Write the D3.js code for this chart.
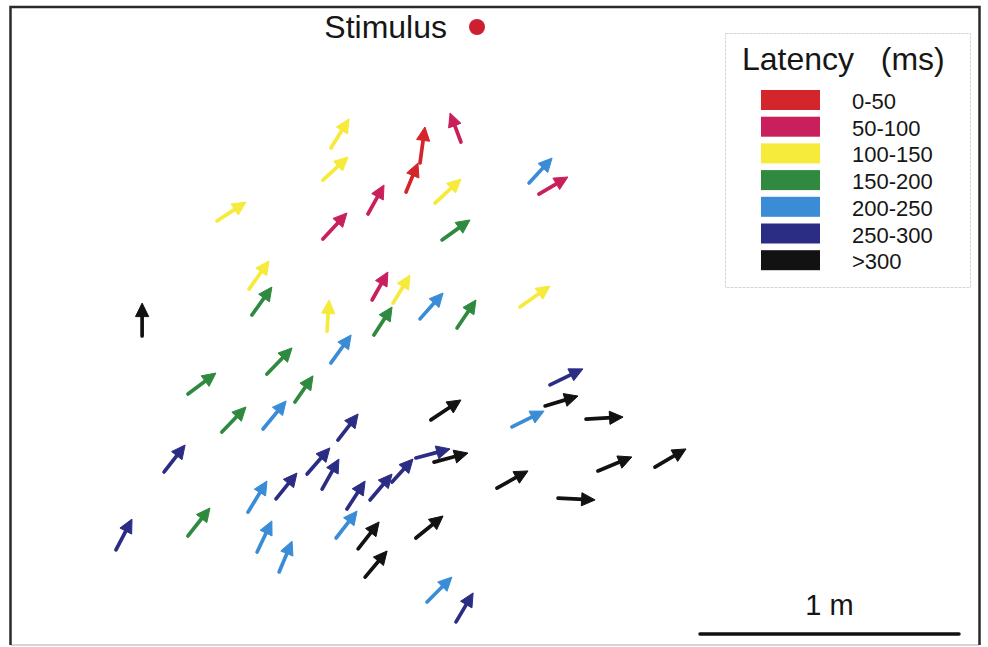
<!DOCTYPE html>
<html>
<head>
<meta charset="utf-8">
<script src="https://cdn.jsdelivr.net/npm/d3@7"></script>
<style>
  body { margin: 0; background: #fff; }
  text { font-family: "Liberation Sans", Arial, sans-serif; fill: #161616; }
</style>
</head>
<body>
<script>
// positions in cm, measured from the stimulus (y grows away from it)
// each arrow is [tailX, tailY, headX, headY]
let latencyBins = ["0-50", "50-100", "100-150", "150-200", "200-250", "250-300", ">300"];

let arrows0to50 = [
  [-27.4, 63.7, -22.8, 52.5],
  [-22.0, 52.5, -20.1, 38.6]
];
let arrows50to100 = [
  [-6.2, 44.4, -10.4, 33.2],
  [-42.1, 72.2, -35.9, 61.0],
  [-59.5, 81.9, -50.2, 71.8],
  [23.9, 64.5, 35.1, 57.9],
  [-40.5, 105.4, -34.4, 94.6]
];
let arrows100to150 = [
  [-56.4, 46.7, -49.4, 35.5],
  [-59.5, 59.1, -49.8, 50.2],
  [-100.4, 74.9, -89.2, 67.6],
  [-16.2, 68.0, -6.2, 58.7],
  [-88.0, 101.2, -80.3, 90.3],
  [-57.9, 117.4, -57.1, 105.4],
  [-32.4, 106.6, -25.9, 95.8],
  [16.6, 108.1, 28.2, 100.0]
];
let arrows150to200 = [
  [-13.5, 82.2, -2.7, 74.5],
  [-86.9, 111.2, -79.2, 100.4],
  [-39.8, 118.9, -32.8, 108.1],
  [-7.7, 116.2, -0.4, 105.4],
  [-81.1, 134.0, -71.4, 123.9],
  [-111.6, 141.7, -100.8, 133.6],
  [-70.3, 144.8, -63.3, 134.7],
  [-98.5, 156.4, -89.2, 146.7],
  [-111.6, 196.5, -103.1, 185.7]
];
let arrows200to250 = [
  [20.1, 60.2, 29.0, 50.6],
  [-22.0, 112.7, -13.1, 102.7],
  [-56.4, 129.7, -48.6, 118.9],
  [-82.6, 155.2, -73.7, 144.4],
  [13.5, 154.4, 25.9, 148.3],
  [-88.4, 187.3, -81.1, 175.3],
  [-84.9, 202.7, -79.2, 190.7],
  [-76.4, 210.4, -71.4, 198.5],
  [-54.4, 197.3, -46.3, 186.9],
  [-19.3, 222.0, -9.7, 212.4]
];
let arrows250to300 = [
  [28.2, 138.2, 40.9, 132.0],
  [-53.7, 159.5, -45.9, 149.4],
  [-120.8, 171.8, -112.7, 161.4],
  [-65.6, 172.6, -56.8, 162.5],
  [-59.8, 178.4, -53.3, 166.8],
  [-50.2, 186.1, -43.2, 175.3],
  [-41.3, 182.6, -32.8, 172.6],
  [-32.8, 175.7, -24.7, 166.8],
  [-23.6, 166.4, -10.4, 162.9],
  [-77.6, 182.2, -69.5, 172.2],
  [-139.4, 201.9, -133.2, 190.0],
  [-8.1, 229.7, -1.5, 218.5]
];
let arrowsOver300 = [
  [-129.3, 119.3, -129.3, 106.6],
  [-17.8, 151.7, -6.2, 144.0],
  [26.3, 146.3, 39.0, 142.5],
  [42.1, 151.4, 56.4, 150.6],
  [-16.6, 168.0, -3.5, 164.5],
  [7.7, 178.0, 19.7, 171.4],
  [31.3, 181.9, 45.6, 182.6],
  [46.7, 171.4, 59.8, 166.0],
  [68.7, 169.9, 80.7, 162.9],
  [-45.9, 201.5, -37.8, 191.1],
  [-23.6, 197.3, -13.1, 188.8],
  [-43.2, 212.4, -34.7, 202.3]
];
let arrowsByBin = [arrows0to50, arrows50to100, arrows100to150, arrows150to200,
                   arrows200to250, arrows250to300, arrowsOver300];

let stimulus = [0, 0];
let scaleBarCm = 100;

let width = 988, height = 647;
let pxPerCm = 2.59;
let origin = [477, 27];

let xScale = d3.scaleLinear().domain([0, 100]).range([origin[0], origin[0] + 100 * pxPerCm]);
let yScale = d3.scaleLinear().domain([0, 100]).range([origin[1], origin[1] + 100 * pxPerCm]);
let color = d3.scaleOrdinal()
    .domain(latencyBins)
    .range(["#d4242c", "#c91f5c", "#f6ea3a", "#2f8a3f", "#3a8cd6", "#2b2d84", "#121212"]);

let svg = d3.select("body").append("svg")
    .attr("width", width)
    .attr("height", height);

// frame
svg.append("line").attr("x1", 10.5).attr("y1", 645).attr("x2", 979).attr("y2", 645)
    .attr("stroke", "#c8c8c8").attr("stroke-width", 1.5);
svg.append("path")
    .attr("d", "M10.5,645 V7 H979.5 V645")
    .attr("fill", "none")
    .attr("stroke", "#2a2a2a")
    .attr("stroke-width", 2.5);

// stimulus
svg.append("circle")
    .attr("cx", xScale(stimulus[0]))
    .attr("cy", yScale(stimulus[1]))
    .attr("r", 8)
    .attr("fill", "#cc2030");
svg.append("text")
    .attr("x", xScale(stimulus[0]) - 30)
    .attr("y", yScale(stimulus[1]) + 11)
    .attr("text-anchor", "end")
    .attr("font-size", 32)
    .text("Stimulus");

// arrows
let headLen = 13.5, headHalf = 6.6;
let flat = [];
arrowsByBin.forEach((list, i) => list.forEach(a => flat.push({bin: latencyBins[i], a: a})));

svg.append("g").selectAll("g")
    .data(flat)
    .enter()
    .append("g")
    .each(function(d) {
        let x0 = xScale(d.a[0]), y0 = yScale(d.a[1]);
        let x1 = xScale(d.a[2]), y1 = yScale(d.a[3]);
        let len = Math.hypot(x1 - x0, y1 - y0);
        let ux = (x1 - x0) / len, uy = (y1 - y0) / len;
        let bx = x1 - ux * headLen, by = y1 - uy * headLen;
        let g = d3.select(this);
        g.append("line")
            .attr("x1", x0).attr("y1", y0)
            .attr("x2", bx + ux * 2).attr("y2", by + uy * 2)
            .attr("stroke", color(d.bin))
            .attr("stroke-width", 3.7)
            .attr("stroke-linecap", "round");
        g.append("path")
            .attr("d", "M" + x1 + "," + y1 +
                       "L" + (bx - uy * headHalf) + "," + (by + ux * headHalf) +
                       "L" + (bx + uy * headHalf) + "," + (by - ux * headHalf) + "Z")
            .attr("fill", color(d.bin))
            .attr("stroke", color(d.bin))
            .attr("stroke-width", 1)
            .attr("stroke-linejoin", "round");
    });

// legend
let legend = svg.append("g");
legend.append("rect")
    .attr("x", 725.5).attr("y", 33.5)
    .attr("width", 245).attr("height", 254)
    .attr("fill", "none")
    .attr("stroke", "#d0d6da")
    .attr("stroke-width", 1)
    .attr("stroke-dasharray", "3,1");
legend.append("text")
    .attr("x", 742).attr("y", 70)
    .attr("font-size", 32)
    .attr("xml:space", "preserve")
    .text("Latency   (ms)");

let rows = legend.selectAll("g.row")
    .data(latencyBins)
    .enter()
    .append("g")
    .attr("class", "row")
    .attr("transform", (d, i) => "translate(0," + (90 + i * 26.7) + ")");
rows.append("rect")
    .attr("x", 761).attr("y", 0)
    .attr("width", 59).attr("height", 20)
    .attr("fill", d => color(d));
rows.append("text")
    .attr("x", 852).attr("y", 19)
    .attr("font-size", 22)
    .text(d => d);

// scale bar
let barLeft = 700, barY = 634;
let barW = xScale(scaleBarCm) - xScale(0);
svg.append("line")
    .attr("x1", barLeft).attr("y1", barY)
    .attr("x2", barLeft + barW).attr("y2", barY)
    .attr("stroke", "#111")
    .attr("stroke-width", 3.5)
    .attr("stroke-linecap", "round");
svg.append("text")
    .attr("x", barLeft + barW / 2).attr("y", 615)
    .attr("text-anchor", "middle")
    .attr("font-size", 29)
    .text((scaleBarCm / 100) + " m");
</script>
</body>
</html>
